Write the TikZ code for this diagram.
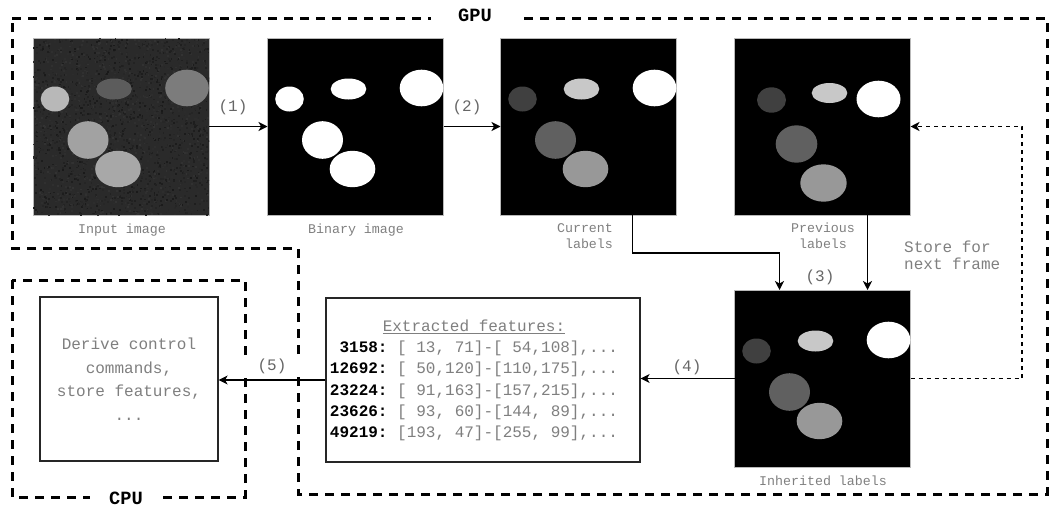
\documentclass[tikz,border=0pt]{standalone}
\usepackage{fontspec}
\newfontfamily\cour{Liberation Mono}
\usetikzlibrary{arrows.meta,calc}
\definecolor{txtgray}{HTML}{7F7F7F}
\definecolor{lblgray}{HTML}{666666}
\definecolor{noisebg}{HTML}{2A2A2A}
\definecolor{inA}{HTML}{B8B8B8}
\definecolor{inB}{HTML}{5C5C5C}
\definecolor{inC}{HTML}{7C7C7C}
\definecolor{inD}{HTML}{A2A2A2}
\definecolor{inE}{HTML}{A8A8A8}
\definecolor{lbA}{HTML}{404040}
\definecolor{lbB}{HTML}{C8C8C8}
\definecolor{lbD}{HTML}{606060}
\definecolor{lbE}{HTML}{989898}
\newcommand{\blobsfirst}[6]{%
  \begin{scope}[shift={(#1.north west)}]
    \fill[#2] (22,61) ellipse [x radius=14.3, y radius=12.5];
    \fill[#3] (81,51) ellipse [x radius=17.8, y radius=10.5];
    \fill[#4] (154,50) ellipse [x radius=21.8, y radius=18.3];
    \fill[#5] (55,102) ellipse [x radius=20.5, y radius=18.8];
    \fill[#6] (85,131) ellipse [x radius=22.8, y radius=18.2];
  \end{scope}}
\begin{document}
\begin{tikzpicture}[x=1pt,y=-1pt,
  img/.style={draw=gray!55, line width=0.8pt, fill=black, minimum width=176pt,
    minimum height=177pt, inner sep=0pt, outer sep=0pt},
  arr/.style={draw=black, line width=1.2pt, -{Stealth[length=9pt,width=9pt,inset=2.5pt]}},
  outline/.style={draw=black, line width=3pt, dash pattern=on 9pt off 7pt},
  loopline/.style={line width=1.2pt, dash pattern=on 4pt off 4pt},
  imglbl/.style={font=\cour\fontsize{13.3}{16}\selectfont, text=txtgray, inner sep=0pt},
  numlbl/.style={font=\cour\fontsize{16}{18}\selectfont, text=lblgray, inner sep=0pt},
  procbox/.style={draw=black!85, line width=1.2pt, fill=white, inner sep=0pt},
  grouplbl/.style={font=\cour\bfseries\fontsize{18.7}{20}\selectfont, fill=white, inner sep=0pt}
]
\useasboundingbox (0,0) rectangle (1054,506);

% group outlines
\draw[outline] (12,18) -- (1047,18) -- (1047,494) -- (298,494) -- (298,248) -- (12,248) -- cycle;
\draw[outline] (12,280) rectangle (245,497);
\node[grouplbl, minimum width=88pt, minimum height=12pt] (gpu) at (475,15) {GPU};
\node[grouplbl, minimum width=72pt, minimum height=10pt] (cpu lbl) at (126,498) {CPU};

% images
\node[img, fill=noisebg] (inp) at (121,126.5) {};
\pgfmathsetseed{7}
\begin{scope}[shift={(inp.north west)}]
  \clip (0,0) rectangle (176,177);
  \foreach \i in {1,...,2600} {
    \pgfmathsetmacro\rx{rnd*175}
    \pgfmathsetmacro\ry{rnd*176}
    \pgfmathsetmacro\g{rnd*10+10}
    \fill[white!\g!black] (\rx,\ry) rectangle ++(1.8,1.8);
  }
\end{scope}
\blobsfirst{inp}{inA}{inB}{inC}{inD}{inE}
\node[img] (bin) at (355.5,126.5) {};
\blobsfirst{bin}{white}{white}{white}{white}{white}
\node[img] (cur) at (588.5,126.5) {};
\blobsfirst{cur}{lbA}{lbB}{white}{lbD}{lbE}
\node[img] (prev) at (822.5,126.5) {};
\begin{scope}[shift={(prev.north west)}]
  \fill[lbA] (37,62) ellipse [x radius=14.5, y radius=12.7];
  \fill[lbB] (95,55) ellipse [x radius=17.8, y radius=10];
  \fill[white] (144,61) ellipse [x radius=22, y radius=18.3];
  \fill[lbD] (62,106) ellipse [x radius=20.8, y radius=18.7];
  \fill[lbE] (89,145) ellipse [x radius=23.2, y radius=18.7];
\end{scope}
\node[img] (inh) at (822.5,378.5) {};
\blobsfirst{inh}{lbA}{lbB}{white}{lbD}{lbE}

% image captions
\node[imglbl] (inp lbl) at (122,230) {Input image};
\node[imglbl] (bin lbl) at (356,230) {Binary image};
\node[imglbl, align=right] (cur lbl) at (585,236) {Current\\labels};
\node[imglbl, align=center] (prev lbl) at (823,236) {Previous\\labels};
\node[imglbl] (inh lbl) at (823,481) {Inherited labels};

% processing boxes
\node[procbox, minimum width=314pt, minimum height=164pt] (feat) at (483,380) {};
\node[font=\cour\fontsize{16}{21.3}\selectfont, text=txtgray, align=center, inner sep=0pt]
  (feat txt) at (474,380.5) {%
  \underline{Extracted features:}\\
  {\bfseries\color{black}\ 3158:}\ [\ 13,\ 71]-[\ 54,108],...\\
  {\bfseries\color{black}12692:}\ [\ 50,120]-[110,175],...\\
  {\bfseries\color{black}23224:}\ [\ 91,163]-[157,215],...\\
  {\bfseries\color{black}23626:}\ [\ 93,\ 60]-[144,\ 89],...\\
  {\bfseries\color{black}49219:}\ [193,\ 47]-[255,\ 99],...};
\node[procbox, minimum width=178pt, minimum height=164pt, align=center,
  font=\cour\fontsize{16}{23.5}\selectfont, text=txtgray] (cpu) at (129,379)
  {Derive control\\commands,\\store features,\\...};

% connectors
\draw[arr] (inp.east) -- (bin.west);
\draw[arr] (bin.east) -- (cur.west);
\coordinate (cur out) at ([xshift=-44pt]cur.south east);
\coordinate (inh in1) at ([xshift=45pt]inh.north west);
\draw[arr] (cur out) -- (cur out |- 0,253) -| (inh in1);
\draw[arr] ([xshift=-43pt]prev.south east) -- ([xshift=-43pt]inh.north east);
\coordinate (loop corner) at (1022,126.5);
\draw[arr, loopline] (inh.east) -| (loop corner) -- (prev.east);
\draw[arr] (inh.west) -- (inh.west -| feat.east);
\draw[arr] (feat.west) -- (feat.west -| cpu.east);

% connector labels
\node[numlbl] (l1) at (233,107) {(1)};
\node[numlbl] (l2) at (467,107) {(2)};
\node[numlbl] (l3) at (820,277) {(3)};
\node[numlbl] (l4) at (687,367) {(4)};
\node[numlbl, fill=white, minimum width=60pt, minimum height=15pt] (l5) at (272,366) {(5)};
\node[font=\cour\fontsize{16}{17}\selectfont, text=txtgray, align=left, inner sep=0pt, anchor=west]
  (store) at (904,255) {Store for\\next frame};
\end{tikzpicture}
\end{document}
